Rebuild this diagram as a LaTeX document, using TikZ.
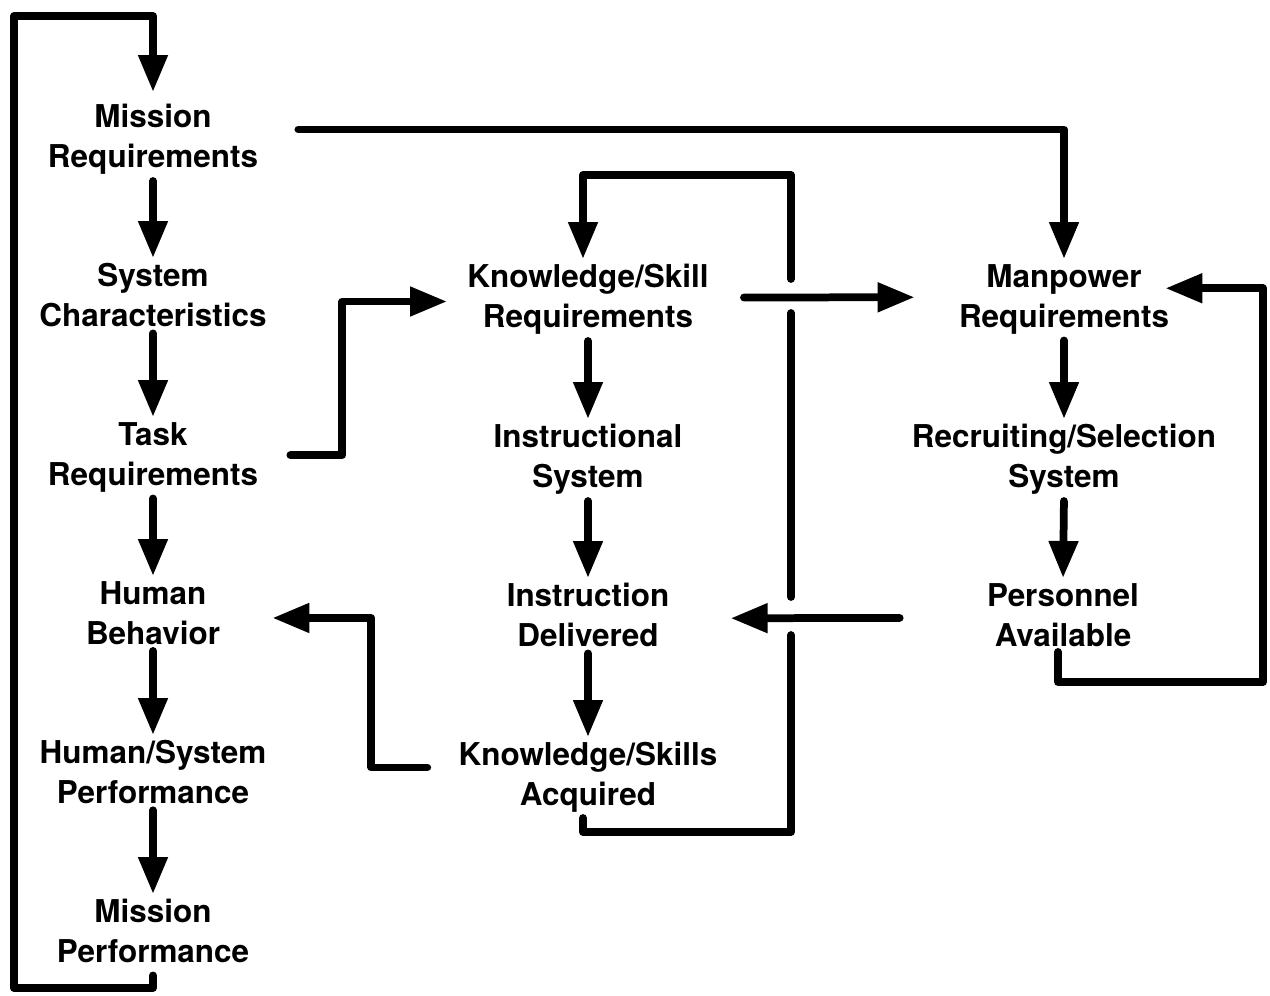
\documentclass[tikz,border=0pt]{standalone}
\usepackage{fontspec}
\setmainfont{TeX Gyre Heros}
\usetikzlibrary{arrows.meta,calc}
\tikzset{
  lbl/.style={font=\bfseries\fontsize{17.9pt}{22.76pt}\selectfont, align=center, inner sep=0pt, anchor=north},
  conn/.style={line width=0.155cm, line cap=round, line join=round},
  arr/.style={conn, -{Triangle[length=0.74cm,width=0.56cm]}},
  vdown/.style={arr, shorten <=0.12cm, shorten >=0.1cm}
}
\begin{document}
\begin{tikzpicture}[x=0.02cm,y=-0.02cm]
\useasboundingbox (0,0) rectangle (1270,995);
% left column
\node[lbl] (mr)  at (153,104) {Mission\\Requirements};
\node[lbl] (sc)  at (153,263) {System\\Characteristics};
\node[lbl] (tr)  at (153,422) {Task\\Requirements};
\node[lbl] (hb)  at (153,581) {Human\\Behavior};
\node[lbl] (hsp) at (153,740) {Human/System\\Performance};
\node[lbl] (mp)  at (153,899) {Mission\\Performance};
% middle column
\node[lbl] (ksr) at (588,264) {Knowledge/Skill\\Requirements};
\node[lbl] (is)  at (588,424) {Instructional\\System};
\node[lbl] (id)  at (588,583) {Instruction\\Delivered};
\node[lbl] (ksa) at (588,742) {Knowledge/Skills\\Acquired};
% right column
\node[lbl] (mpr) at (1064,264) {Manpower\\Requirements};
\node[lbl] (rss) at (1064,424) {Recruiting/Selection\\System};
\node[lbl] (pa)  at (1063,583) {Personnel\\Available};

% vertical flow arrows
\foreach \a/\b in {mr/sc, sc/tr, tr/hb, hb/hsp, hsp/mp, ksr/is, is/id, id/ksa, mpr/rss, rss/pa}
  \draw[vdown] (\a.south) -- (\b.north);

% outer feedback loop
\coordinate (lb) at (14,988);
\coordinate (lt) at (14,16);
\draw[arr, shorten >=0.24cm] ($(mp.south)+(0,12)$) |- (lb) -- (lt) -| (mr.north);

% mission requirements -> manpower requirements
\draw[arr, shorten >=0.1cm] ($(mr.east)+(40,-10)$) -| (mpr.north);

% task requirements -> knowledge/skill requirements
\draw[arr] ($(tr.east)+(32,-2)$) -- ++(52,0) |- ($(ksr.west)+(-20,2)$);

% knowledge/skill requirements -> manpower requirements
\draw[arr] ($(ksr.east)+(35,-2)$) -- ($(mpr.west)+(-44,-2)$);

% personnel available -> instruction delivered
\draw[arr] ($(pa.west)+(-87,3)$) -- ($(id.east)+(61,3)$);

% knowledge/skills acquired loop back to knowledge/skill requirements (with gaps)
\coordinate (cx1) at (791,296);
\coordinate (cx2) at (791,616);
\draw[conn] ($(ksa.south)+(-5,5)$) |- (791,832) -- ($(cx2)+(0,19)$);
\draw[conn] ($(cx2)+(0,-19)$) -- ($(cx1)+(0,17)$);
\draw[arr, shorten >=0.1cm] ($(cx1)+(0,-17)$) -- (791,175) -| ($(ksr.north)+(-5,0)$);

% knowledge/skills acquired -> human behavior
\draw[arr] ($(ksa.west)+(-31,-10)$) -- ++(-56,0) |- ($(hb.east)+(52,5)$);

% personnel available -> manpower requirements
\draw[arr] ($(pa.south)+(-5,5)$) |- (1263,682) |- ($(mpr.east)+(-4,-11)$);
\end{tikzpicture}
\end{document}
